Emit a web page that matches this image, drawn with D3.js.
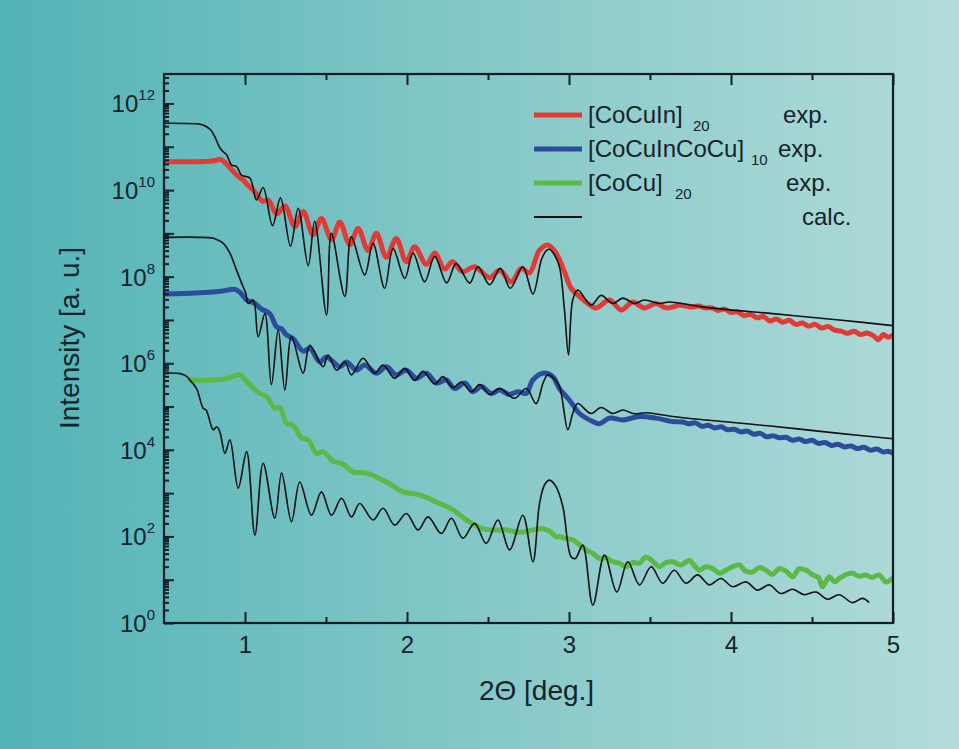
<!DOCTYPE html>
<html><head><meta charset="utf-8">
<script src="https://cdn.jsdelivr.net/npm/d3@7"></script>
<style>html,body{margin:0;padding:0;} svg{display:block;}</style>
</head><body>
<svg id="chart" width="959" height="749"></svg>
<script>
// ---- data (2Theta in deg, intensity in a.u.) ----
const xTickValues = [1, 2, 3, 4, 5];
const xMinorTickValues = [1.5, 2.5, 3.5, 4.5];
const yLabelExponents = [0, 2, 4, 6, 8, 10, 12];
const legendNames = ["[CoCuIn]", "[CoCuInCoCu]", "[CoCu]", ""];
const legendSubs = ["20", "10", "20", ""];
const legendKinds = ["exp.", "exp.", "exp.", "calc."];

const cocuinExp = [[0.50,4.5e10],[0.65,4.5e10],[0.80,4.7e10],[0.85,5.1e10],[0.88,4.2e10],[0.92,2.9e10],[0.95,2.2e10],[0.99,1.7e10],[1.02,1.26e10],[1.05,1.0e10],[1.08,7.2e9],[1.11,5.5e9],[1.143,5.9e9],[1.195,2.8e9],[1.246,4.3e9],[1.308,1.45e9],[1.359,3.2e9],[1.420,9.3e8],[1.472,2.2e9],[1.534,7.2e8],[1.585,1.8e9],[1.647,5.5e8],[1.698,1.3e9],[1.760,4.0e8],[1.811,1.0e9],[1.873,2.8e8],[1.934,7.6e8],[1.996,2.2e8],[2.047,4.9e8],[2.120,1.9e8],[2.171,3.5e8],[2.232,1.5e8],[2.280,2.2e8],[2.345,1.3e8],[2.417,1.7e8],[2.510,9.5e7],[2.572,1.4e8],[2.644,7.6e7],[2.705,1.55e8],[2.756,1.23e8],[2.818,4.1e8],[2.869,5.4e8],[2.920,3.5e8],[2.972,1.3e8],[3.013,5.4e7],[3.065,3.5e7],[3.11,2.5e7],[3.168,1.9e7],[3.250,2.9e7],[3.322,1.7e7],[3.393,2.6e7],[3.465,1.9e7],[3.537,2.4e7],[3.60,1.9e7],[3.64,2.0e7],[3.68,2.2e7],[3.72,2.1e7],[3.76,2.0e7],[3.80,2.1e7],[3.84,1.9e7],[3.88,1.9e7],[3.92,1.66e7],[3.96,1.78e7],[4.00,1.48e7],[4.04,1.55e7],[4.08,1.26e7],[4.12,1.35e7],[4.16,1.12e7],[4.20,1.2e7],[4.24,9.5e6],[4.28,1.05e7],[4.32,8.9e6],[4.36,9.8e6],[4.40,7.9e6],[4.44,8.5e6],[4.48,7.2e6],[4.52,7.9e6],[4.56,6.5e6],[4.60,7.1e6],[4.64,5.8e6],[4.68,5.5e6],[4.72,4.9e6],[4.76,5.5e6],[4.80,4.6e6],[4.84,5.0e6],[4.88,4.3e6],[4.91,3.5e6],[4.94,4.6e6],[4.97,4.0e6],[5.00,4.5e6]];

const cocuinCalc = [[0.50,3.5e11],[0.70,3.4e11],[0.74,3.2e11],[0.763,2.9e11],[0.79,2.4e11],[0.814,1.7e11],[0.835,1.12e11],[0.856,8.3e10],[0.887,6.5e10],[0.917,3.8e10],[0.948,3.5e10],[0.979,2.2e10],[1.030,1.9e10],[1.071,5.9e9],[1.112,1.15e10],[1.170,1.5e9],[1.219,6.6e9],[1.281,5.1e8],[1.328,3.8e9],[1.390,1.8e8],[1.430,1.9e9],[1.503,1.3e7],[1.533,1.0e9],[1.616,3.5e7],[1.656,8.3e8],[1.739,1.1e8],[1.790,5.9e8],[1.862,5.4e7],[1.914,4.5e8],[1.986,9.1e7],[2.037,3.5e8],[2.109,7.6e7],[2.171,2.9e8],[2.245,7.2e7],[2.303,2.0e8],[2.387,7.1e7],[2.438,1.7e8],[2.510,6.5e7],[2.576,1.55e8],[2.638,5.4e7],[2.715,1.7e8],[2.777,4.0e7],[2.830,2.5e8],[2.860,4.0e8],[2.880,4.3e8],[2.910,3.2e8],[2.941,1.7e8],[2.972,1.7e7],[2.997,1.55e6],[3.023,2.9e7],[3.054,4.9e7],[3.137,2.2e7],[3.198,3.7e7],[3.270,2.4e7],[3.332,3.2e7],[3.404,2.4e7],[3.465,2.9e7],[3.558,2.4e7],[3.620,2.6e7],[3.845,1.95e7],[4.257,1.4e7],[4.668,1.0e7],[5.00,7.4e6]];

const cocuincocuExp = [[0.50,4.0e7],[0.70,4.2e7],[0.85,4.6e7],[0.938,5.1e7],[0.97,4.3e7],[1.01,2.9e7],[1.061,2.4e7],[1.10,1.8e7],[1.153,1.4e7],[1.195,6.9e6],[1.225,6.3e6],[1.256,4.5e6],[1.297,3.7e6],[1.359,1.9e6],[1.400,2.2e6],[1.462,1.07e6],[1.503,1.4e6],[1.585,8.3e5],[1.626,1.07e6],[1.688,6.9e5],[1.739,9.1e5],[1.811,5.9e5],[1.873,8.3e5],[1.934,5.4e5],[1.996,6.9e5],[2.058,4.5e5],[2.120,5.9e5],[2.181,3.5e5],[2.243,4.1e5],[2.294,2.6e5],[2.356,3.5e5],[2.407,2.2e5],[2.459,2.9e5],[2.520,2.0e5],[2.572,2.4e5],[2.633,1.9e5],[2.684,2.2e5],[2.736,2.0e5],[2.777,4.1e5],[2.839,5.9e5],[2.900,4.9e5],[2.941,2.6e5],[3.003,1.4e5],[3.065,6.9e4],[3.147,4.5e4],[3.188,4.0e4],[3.250,5.4e4],[3.332,4.9e4],[3.435,5.9e4],[3.537,5.4e4],[3.640,4.5e4],[3.70,4.4e4],[3.74,4.0e4],[3.78,4.2e4],[3.82,3.5e4],[3.86,3.7e4],[3.90,3.2e4],[3.94,3.4e4],[3.98,2.9e4],[4.02,3.0e4],[4.06,2.6e4],[4.10,2.7e4],[4.14,2.3e4],[4.18,2.4e4],[4.22,2.0e4],[4.26,2.1e4],[4.30,1.9e4],[4.34,1.95e4],[4.38,1.66e4],[4.42,1.78e4],[4.46,1.55e4],[4.50,1.66e4],[4.54,1.41e4],[4.58,1.48e4],[4.62,1.26e4],[4.66,1.35e4],[4.70,1.17e4],[4.74,1.23e4],[4.78,1.07e4],[4.82,1.15e4],[4.86,9.8e3],[4.90,1.05e4],[4.94,8.9e3],[4.97,9.3e3],[5.00,8.3e3]];

const cocuincocuCalc = [[0.50,8.1e8],[0.80,7.8e8],[0.825,7.2e8],[0.866,5.9e8],[0.907,3.5e8],[0.948,1.4e8],[0.979,7.1e7],[1.005,4.1e7],[1.020,2.4e7],[1.051,2.9e7],[1.081,4.1e6],[1.123,1.4e7],[1.163,3.2e5],[1.205,5.9e6],[1.246,2.4e5],[1.287,4.1e6],[1.359,5.9e5],[1.400,2.6e6],[1.482,8.3e5],[1.513,1.55e6],[1.565,6.9e5],[1.616,1.07e6],[1.657,5.4e5],[1.729,1.3e6],[1.801,5.9e5],[1.852,9.1e5],[1.924,4.5e5],[1.986,7.6e5],[2.047,4.0e5],[2.099,6.5e5],[2.171,3.3e5],[2.222,4.9e5],[2.284,2.75e5],[2.335,3.7e5],[2.397,2.2e5],[2.448,3.2e5],[2.510,1.9e5],[2.572,2.6e5],[2.664,1.55e5],[2.736,2.6e5],[2.797,1.17e5],[2.840,3.5e5],[2.869,5.4e5],[2.905,4.5e5],[2.941,2.9e5],[2.993,2.9e4],[3.023,6.9e4],[3.054,1.17e5],[3.136,6.9e4],[3.198,9.5e4],[3.270,6.9e4],[3.332,8.3e4],[3.404,6.8e4],[3.476,7.2e4],[3.640,5.9e4],[3.846,4.9e4],[4.257,3.5e4],[4.668,2.4e4],[5.00,1.8e4]];

const cocuExp = [[0.66,4.1e5],[0.80,4.1e5],[0.88,4.4e5],[0.969,5.4e5],[1.00,4.2e5],[1.030,3.2e5],[1.092,2.0e5],[1.133,1.7e5],[1.184,9.1e4],[1.215,9.5e4],[1.256,4.1e4],[1.297,3.7e4],[1.349,1.9e4],[1.390,1.7e4],[1.441,8.3e3],[1.482,9.1e3],[1.544,5.4e3],[1.596,4.9e3],[1.667,3.1e3],[1.750,2.9e3],[1.873,1.8e3],[1.976,1.07e3],[2.078,910],[2.202,575],[2.284,410],[2.366,240],[2.469,150],[2.540,141],[2.613,141],[2.680,126],[2.736,129],[2.790,145],[2.839,151],[2.880,132],[2.920,98],[2.941,98],[2.980,89],[3.023,83],[3.060,66],[3.106,49],[3.150,40],[3.188,31],[3.230,32],[3.270,26],[3.310,24],[3.353,20],[3.395,25],[3.435,24],[3.470,33],[3.496,31],[3.530,24],[3.558,20],[3.600,25],[3.640,26],[3.690,22],[3.743,28],[3.770,22],[3.804,16.6],[3.845,20],[3.887,18.2],[3.930,14.1],[3.969,16.6],[4.010,20],[4.051,21.9],[4.090,15.8],[4.133,15.1],[4.175,19.1],[4.215,16.6],[4.255,13.2],[4.298,18.2],[4.340,15.8],[4.380,11.7],[4.420,17.8],[4.462,16.6],[4.510,12.6],[4.540,11.2],[4.565,6.9],[4.606,11.7],[4.640,8.9],[4.668,10.7],[4.710,13.2],[4.750,14.1],[4.790,12.0],[4.832,12.9],[4.870,11.2],[4.914,12.9],[4.955,8.9],[4.997,10.7]];

const cocuCalc = [[0.50,5.9e5],[0.60,5.75e5],[0.64,5.0e5],[0.660,4.1e5],[0.701,2.6e5],[0.742,9.1e4],[0.760,8.3e4],[0.804,2.9e4],[0.825,3.4e4],[0.845,2.6e4],[0.876,8.3e3],[0.907,1.7e4],[0.958,1.3e3],[1.010,9.1e3],[1.061,107],[1.112,4.9e3],[1.184,263],[1.226,2.9e3],[1.287,219],[1.338,1.8e3],[1.410,309],[1.472,1.07e3],[1.534,309],[1.596,759],[1.657,282],[1.708,575],[1.790,240],[1.852,447],[1.924,182],[1.996,339],[2.068,141],[2.130,282],[2.212,117],[2.274,263],[2.345,91],[2.417,200],[2.489,69],[2.561,240],[2.633,49],[2.715,309],[2.777,26],[2.818,575],[2.850,1.58e3],[2.880,2.0e3],[2.920,1.41e3],[2.962,490],[3.013,34],[3.040,31],[3.085,63],[3.147,2.6],[3.219,37],[3.295,5.2],[3.363,26],[3.435,7.6],[3.507,20],[3.578,8.3],[3.650,16.6],[3.722,8.3],[3.794,12.9],[3.866,7.6],[3.938,10.7],[4.010,6.9],[4.092,8.9],[4.164,5.75],[4.236,7.6],[4.308,4.8],[4.380,6.0],[4.452,4.5],[4.524,5.2],[4.596,3.55],[4.668,4.5],[4.750,2.95],[4.811,3.7],[4.853,2.95]];

// ---- layout ----
const W = 959, H = 749;
const margin = {top: 74, right: 66, bottom: 126, left: 164};
const FONT = "'Liberation Sans', Arial, Helvetica, sans-serif";
const colors = {red: "#e23b36", blue: "#2c4c9c", green: "#5cb946", black: "#111"};
const textColor = "#15232a";

const svg = d3.select("#chart");
const defs = svg.append("defs");
const grad = defs.append("linearGradient").attr("id", "bg").attr("x1", "0%").attr("x2", "100%").attr("y1", "0%").attr("y2", "0%");
grad.append("stop").attr("offset", "0%").attr("stop-color", "#52b3b6");
grad.append("stop").attr("offset", "45%").attr("stop-color", "#80c6c6");
grad.append("stop").attr("offset", "100%").attr("stop-color", "#b2dcd9");
svg.append("rect").attr("width", W).attr("height", H).attr("fill", "url(#bg)");

const x = d3.scaleLinear().domain([0.5, 5]).range([margin.left, W - margin.right]);
const y = d3.scaleLog().domain([1, 4.8e12]).range([H - margin.bottom, margin.top]);

defs.append("clipPath").attr("id", "clip").append("rect")
  .attr("x", margin.left).attr("y", margin.top)
  .attr("width", W - margin.left - margin.right).attr("height", H - margin.top - margin.bottom);

const plot = svg.append("g").attr("clip-path", "url(#clip)");
const smooth = d3.line().x(d => x(d[0])).y(d => y(d[1])).curve(d3.curveCatmullRom.alpha(0.5));

const expSeries = [[cocuinExp, colors.red], [cocuincocuExp, colors.blue], [cocuExp, colors.green]];
const calcSeries = [cocuinCalc, cocuincocuCalc, cocuCalc];

expSeries.forEach(([data, c]) => {
  plot.append("path").datum(data).attr("d", smooth).attr("fill", "none")
    .attr("stroke", c).attr("stroke-width", 5).attr("stroke-linejoin", "round").attr("stroke-linecap", "round");
});
calcSeries.forEach(data => {
  plot.append("path").datum(data).attr("d", smooth).attr("fill", "none")
    .attr("stroke", colors.black).attr("stroke-width", 1.6).attr("stroke-linejoin", "round");
});

// ---- axes ----
const axisColor = "#0d1f24";
function styleAxis(g) {
  g.select(".domain").remove();
  g.selectAll(".tick line").attr("stroke", axisColor).attr("stroke-width", 2);
}
const bottomY = H - margin.bottom;
svg.append("g").attr("transform", `translate(0,${bottomY})`)
  .call(d3.axisBottom(x).tickValues(xTickValues).tickSize(-11).tickFormat(d3.format("d")).tickPadding(13))
  .call(styleAxis)
  .call(g => g.selectAll("text").attr("font-family", FONT).attr("font-size", 24).attr("fill", textColor).attr("dy", "0.71em"));
svg.append("g").attr("transform", `translate(0,${bottomY})`)
  .call(d3.axisBottom(x).tickValues(xMinorTickValues).tickSize(-6).tickFormat(""))
  .call(styleAxis);
svg.append("g").attr("transform", `translate(0,${margin.top})`)
  .call(d3.axisTop(x).tickValues(xTickValues).tickSize(-11).tickFormat(""))
  .call(styleAxis);
svg.append("g").attr("transform", `translate(0,${margin.top})`)
  .call(d3.axisTop(x).tickValues(xMinorTickValues).tickSize(-6).tickFormat(""))
  .call(styleAxis);

const yMajor = d3.range(0, 13).map(e => Math.pow(10, e));
const yMinor = [];
d3.range(0, 13).forEach(e => d3.range(2, 10).forEach(m => { const v = m * Math.pow(10, e); if (v <= 4.8e12) yMinor.push(v); }));
svg.append("g").attr("transform", `translate(${margin.left},0)`)
  .call(d3.axisLeft(y).tickValues(yMajor).tickSize(-10).tickFormat(""))
  .call(styleAxis);
svg.append("g").attr("transform", `translate(${margin.left},0)`)
  .call(d3.axisLeft(y).tickValues(yMinor).tickSize(-5).tickFormat(""))
  .call(styleAxis);

// y labels 10^n
const ylab = svg.append("g").attr("font-family", FONT).attr("fill", textColor);
yLabelExponents.forEach(e => {
  const t = ylab.append("text").attr("x", margin.left - 9).attr("y", y(Math.pow(10, e)) + 9)
    .attr("text-anchor", "end").attr("font-size", 24);
  t.append("tspan").text("10");
  t.append("tspan").attr("font-size", 15).attr("dy", -12).text(e);
});

// frame
svg.append("rect").attr("x", margin.left).attr("y", margin.top)
  .attr("width", W - margin.left - margin.right).attr("height", H - margin.top - margin.bottom)
  .attr("fill", "none").attr("stroke", axisColor).attr("stroke-width", 2.2);

// axis titles
svg.append("text").attr("x", (margin.left + W - margin.right) / 2 + 8).attr("y", 700)
  .attr("text-anchor", "middle").attr("font-family", FONT).attr("font-size", 28).attr("fill", textColor)
  .text("2\u0398 [deg.]");
svg.append("text").attr("transform", "translate(79,338) rotate(-90)")
  .attr("text-anchor", "middle").attr("font-family", FONT).attr("font-size", 28).attr("fill", textColor)
  .text("Intensity [a. u.]");

// legend
const legColors = [colors.red, colors.blue, colors.green, colors.black];
const legWidths = [5, 5, 5, 1.8];
const legY = [115, 149, 183, 217];
const subX = [693, 751, 675, 0];
const kindX = [783, 778, 786, 802];
const leg = svg.append("g").attr("font-family", FONT).attr("fill", textColor);
legendNames.forEach((name, i) => {
  leg.append("line").attr("x1", 534).attr("x2", 582).attr("y1", legY[i]).attr("y2", legY[i])
    .attr("stroke", legColors[i]).attr("stroke-width", legWidths[i]);
  if (name) {
    leg.append("text").attr("x", 588).attr("y", legY[i] + 8).attr("font-size", 24).text(name);
    leg.append("text").attr("x", subX[i]).attr("y", legY[i] + 16).attr("font-size", 15).text(legendSubs[i]);
  }
  leg.append("text").attr("x", kindX[i]).attr("y", legY[i] + 8).attr("font-size", 24).text(legendKinds[i]);
});
</script>
</body></html>
